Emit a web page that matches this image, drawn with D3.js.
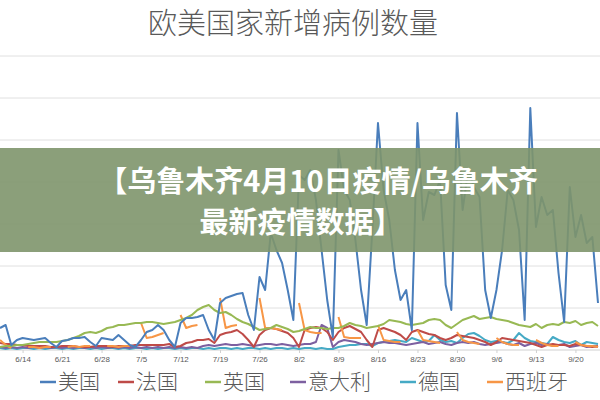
<!DOCTYPE html>
<html><head><meta charset="utf-8">
<script src="https://cdn.jsdelivr.net/npm/d3@7/dist/d3.min.js"></script>
<style>body{margin:0;background:#fff}svg{display:block}</style>
</head><body><svg id="c" width="600" height="400"></svg>
<script>
const startDate = new Date(2020, 5, 10);
const seriesNames = ["美国","法国","英国","意大利","德国","西班牙"];
const colors = ["#4a7ebb","#be4b48","#98b954","#7d60a0","#46aac5","#f79646"];
const us = [22,25,5,10,12,11,10,11,12,7,3,9,10,12,12,13,8,4,12,11,10,15,10,5,3,10,18,20,25,20,10,3,27,32,32,33,35,20,10,47,52,54,56,57,35,20,73,60,117,100,87,60,30,175,170,180,150,100,50,13,200,160,150,110,60,25,120,227,160,130,80,50,60,20,227,130,158,155,170,65,40,237,140,180,163,153,60,32,60,100,160,150,120,30,242,123,153,135,140,77,28,163,113,135,107,113,47];
const fr = [7,6,6,5,5,4,4,4,4,3,3,4,4,4,3,3,3,4,4,4,3,4,4,4,5,5,5,5,5,5,6,3,4,7,8,10,10,11,7,15,17,18,20,16,10,3,15,20,22,21,19,17,12,3,20,22,23,22,18,10,18,22,24,21,18,10,3,20,22,20,18,15,10,18,20,18,16,15,12,10,12,15,14,13,12,10,8,5,8,12,11,10,9,8,7,5,3,5,6,5,5,4,6,5,4,3,4];
const uk = [3,4,4,5,5,6,7,8,8,8,8,9,10,12,14,17,18,17,19,22,23,25,25,26,27,27,28,28,27,26,27,28,30,32,35,40,43,45,40,37,38,35,31,28,26,23,20,21,22,25,23,21,18,19,21,23,22,22,21,22,22,24,27,25,24,22,23,24,26,30,29,28,26,25,26,27,30,31,30,25,22,26,30,32,34,31,32,33,31,30,29,27,25,24,23,26,22,25,26,25,28,27,29,25,27,28,24];
const it = [3,2,3,2,3,2,3,2,3,2,3,2,3,2,3,2,3,2,3,2,3,2,3,2,3,2,3,2,3,2,3,2,3,2,3,2,4,5,4,5,6,5,5,6,5,4,5,6,6,5,6,5,4,5,6,6,8,25,22,3,8,10,9,8,6,5,6,7,8,7,7,6,5,6,7,8,6,7,8,6,5,7,8,7,8,6,5,6,7,8,6,5,7,4,6,7,5,6,4,5,6,3,4,5,3,4,3];
const de = [2,1,2,1,2,2,1,2,1,2,2,1,2,1,2,2,1,2,1,2,2,1,2,1,2,2,1,2,1,2,2,1,2,1,2,2,1,2,1,2,2,1,2,1,2,2,1,2,1,2,2,1,2,1,2,2,1,2,1,1,3,4,5,5,6,6,4,7,8,9,10,9,8,12,10,8,9,15,10,8,9,7,12,16,17,14,10,8,9,8,7,10,17,12,9,8,7,6,13,10,8,7,9,5,8,7,6];
const es = [10,5,2,null,null,3,3,2,3,3,null,null,3,4,3,4,4,null,null,4,4,3,4,4,null,27,12,13,15,17,null,null,35,22,24,25,null,null,null,52,22,24,25,null,null,null,52,22,22,21,20,null,null,47,20,18,17,17,null,null,33,13,12,12,12,null,null,25,10,9,8,8,null,null,20,10,9,8,7,null,null,18,10,8,7,6,null,null,12,8,6,5,5,null,null,10,7,5,4,4,null,null,8,5,4,4,3];
const allSeries = [us, fr, uk, it, de, es];
const gridValues = [0,42,84,126,168,210,252,294];
const tickLabels = ["6/14","6/21","6/28","7/5","7/12","7/19","7/26","8/2","8/9","8/16","8/23","8/30","9/6","9/13","9/20"];

const svg = d3.select("#c");
const dates = us.map((_, i) => d3.timeDay.offset(startDate, i));
const x = d3.scaleTime().domain([dates[0], dates[dates.length-1]]).range([0, 598]);
const y = d3.scaleLinear().domain([0, 294]).range([350, 56]);

svg.append("text").attr("x", 293).attr("y", 34).attr("text-anchor","middle")
  .attr("font-family","Noto Sans CJK SC").attr("font-weight",300).attr("font-size",29).attr("fill","#595959")
  .text("欧美国家新增病例数量");

svg.append("g").selectAll("line").data(gridValues.slice(1)).join("line")
  .attr("x1",0).attr("x2",600).attr("y1",d=>y(d)).attr("y2",d=>y(d))
  .attr("stroke","#e0e0e0").attr("stroke-width",1);
svg.append("line").attr("x1",0).attr("x2",600).attr("y1",y(0)).attr("y2",y(0)).attr("stroke","#d0d0d0");

const tickDates = tickLabels.map((_, i) => d3.timeDay.offset(startDate, 4 + 7*i));
const ax = svg.append("g").attr("transform","translate(0,350)")
  .call(d3.axisBottom(x).tickValues(tickDates).tickSize(3).tickFormat((d,i)=>tickLabels[i]));
ax.select(".domain").remove();
ax.selectAll("line").attr("stroke","#d0d0d0");
ax.selectAll("text").attr("font-family","Liberation Sans").attr("font-size",8).attr("fill","#595959").attr("dy","0.8em");

const line = d3.line().defined(d=>d!=null).x((d,i)=>x(dates[i])).y(d=>y(d));
[4,3,1,5,2,0].forEach(k=>{
  svg.append("path").datum(allSeries[k]).attr("d", line).attr("fill","none")
    .attr("stroke", colors[k]).attr("stroke-width", 2).attr("stroke-linejoin","round");
});

svg.append("rect").attr("x",0).attr("y",148).attr("width",600).attr("height",104)
  .attr("fill","rgb(126,149,107)").attr("opacity",0.9);
const bt = svg.append("g").attr("fill","#fff").attr("font-family","Noto Sans CJK SC").attr("font-weight",700)
  .attr("font-size",29).attr("text-anchor","middle");
bt.append("text").attr("x",318).attr("y",192).text("【乌鲁木齐4月10日疫情/乌鲁木齐");
bt.append("text").attr("x",301).attr("y",233).text("最新疫情数据】");

const legX = [40,118,205,290,400,487];
const lg = svg.append("g").selectAll("g").data(seriesNames).join("g")
  .attr("transform",(d,i)=>`translate(${legX[i]},382)`);
lg.append("line").attr("x1",0).attr("x2",16).attr("stroke",(d,i)=>colors[i]).attr("stroke-width",2.5);
lg.append("text").attr("x",18).attr("dy","0.35em").attr("font-family","Noto Sans CJK SC").attr("font-weight",300)
  .attr("font-size",21).attr("fill","#595959").text(d=>d);
</script></body></html>
